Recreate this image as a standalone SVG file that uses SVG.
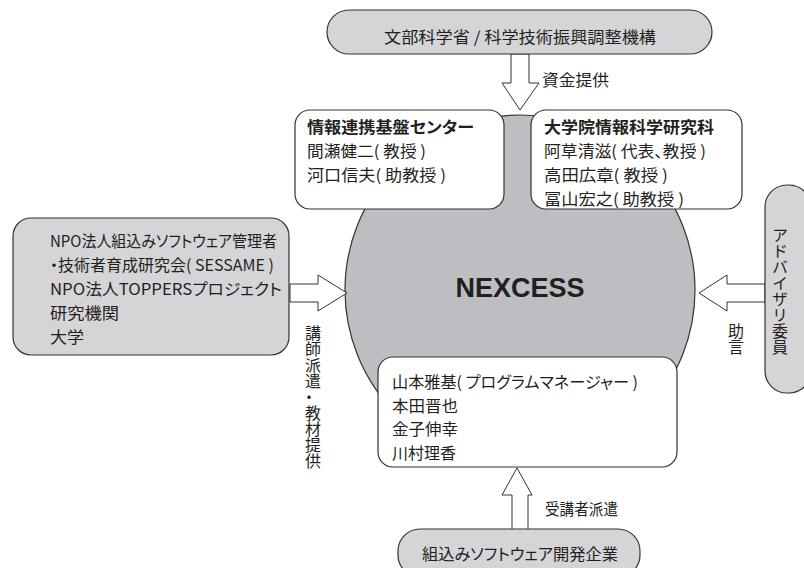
<svg xmlns="http://www.w3.org/2000/svg" width="804" height="568" viewBox="0 0 804 568">
<defs>
<style>
text{font-family:"Noto Sans CJK JP","Noto Sans",sans-serif;font-size:16px;fill:#231f20;font-feature-settings:"palt"}
.b{font-weight:bold}
.gray{fill:#d5d5d7;stroke:#333;stroke-width:1.2}
.white{fill:#fff;stroke:#333;stroke-width:1.2}
.arrow{fill:#fff;stroke:#333;stroke-width:1}
.v{writing-mode:vertical-rl;text-orientation:upright}
</style>
</defs>
<rect width="804" height="568" fill="#fff"/>
<g id="nexcess">
<circle cx="520" cy="290" r="175" fill="#bdbec1" stroke="#333" stroke-width="1.2"/>
<text x="520" y="297" text-anchor="middle" style="font-family:'Liberation Sans',Arial,sans-serif;font-size:27px;font-weight:bold">NEXCESS</text>
</g>
<g id="connectors">
<polygon class="arrow" points="511,54 529,54 529,83 539,83 520,110 502,83 511,83"/>
<polygon class="arrow" points="290,284 318,284 318,275 347,293 318,311 318,302 290,302"/>
<polygon class="arrow" points="765,284 727,284 727,275 699,293 727,311 727,302 765,302"/>
<polygon class="arrow" points="512,530 512,495 502,495 517,468 532,495 528,495 528,530"/>
<text x="542" y="86" textLength="67" lengthAdjust="spacingAndGlyphs">資金提供</text>
<text x="545" y="515" textLength="73" lengthAdjust="spacingAndGlyphs">受講者派遣</text>
<text class="v" x="313" y="325">講師派遣・教材提供</text>
<text class="v" x="736" y="323">助言</text>
</g>
<g id="ministry">
<rect class="gray" x="327" y="10" width="385" height="44" rx="22"/>
<text x="384" y="43" textLength="272" lengthAdjust="spacingAndGlyphs">文部科学省 / 科学技術振興調整機構</text>
</g>
<g id="center">
<rect class="white" x="295" y="110" width="209" height="99" rx="15"/>
<text class="b" x="307" y="133" textLength="167" lengthAdjust="spacingAndGlyphs">情報連携基盤センター</text>
<text x="307" y="157" textLength="119" lengthAdjust="spacingAndGlyphs">間瀬健二( 教授 )</text>
<text x="307" y="181" textLength="139" lengthAdjust="spacingAndGlyphs">河口信夫( 助教授 )</text>
</g>
<g id="graduate">
<rect class="white" x="531" y="110" width="211" height="99" rx="15"/>
<text class="b" x="544" y="133" textLength="170" lengthAdjust="spacingAndGlyphs">大学院情報科学研究科</text>
<text x="544" y="157" textLength="162" lengthAdjust="spacingAndGlyphs">阿草清滋( 代表、教授 )</text>
<text x="544" y="181" textLength="124" lengthAdjust="spacingAndGlyphs">高田広章( 教授 )</text>
<text x="544" y="205" textLength="140" lengthAdjust="spacingAndGlyphs">冨山宏之( 助教授 )</text>
</g>
<g id="npo">
<rect class="gray" x="13" y="218" width="276" height="137" rx="18"/>
<text x="50" y="247" textLength="227" lengthAdjust="spacingAndGlyphs">NPO法人組込みソフトウェア管理者</text>
<text x="50" y="271" textLength="224" lengthAdjust="spacingAndGlyphs">・技術者育成研究会( SESSAME )</text>
<text x="50" y="295" textLength="232" lengthAdjust="spacingAndGlyphs">NPO法人TOPPERSプロジェクト</text>
<text x="50" y="319" textLength="69" lengthAdjust="spacingAndGlyphs">研究機関</text>
<text x="50" y="343" textLength="34" lengthAdjust="spacingAndGlyphs">大学</text>
</g>
<g id="advisory">
<rect class="gray" x="765" y="185" width="46" height="208" rx="22"/>
<text class="v" x="780" y="227">アドバイザリ委員</text>
</g>
<g id="members">
<rect class="white" x="378" y="357" width="299" height="110" rx="15"/>
<text x="392" y="388" textLength="246" lengthAdjust="spacingAndGlyphs">山本雅基( プログラムマネージャー )</text>
<text x="392" y="411.5" textLength="66" lengthAdjust="spacingAndGlyphs">本田晋也</text>
<text x="392" y="435" textLength="66" lengthAdjust="spacingAndGlyphs">金子伸幸</text>
<text x="392" y="458.5" textLength="64" lengthAdjust="spacingAndGlyphs">川村理香</text>
</g>
<g id="companies">
<rect class="gray" x="398" y="529" width="242" height="48" rx="22"/>
<text x="422" y="560" textLength="196" lengthAdjust="spacingAndGlyphs">組込みソフトウェア開発企業</text>
</g>
</svg>
